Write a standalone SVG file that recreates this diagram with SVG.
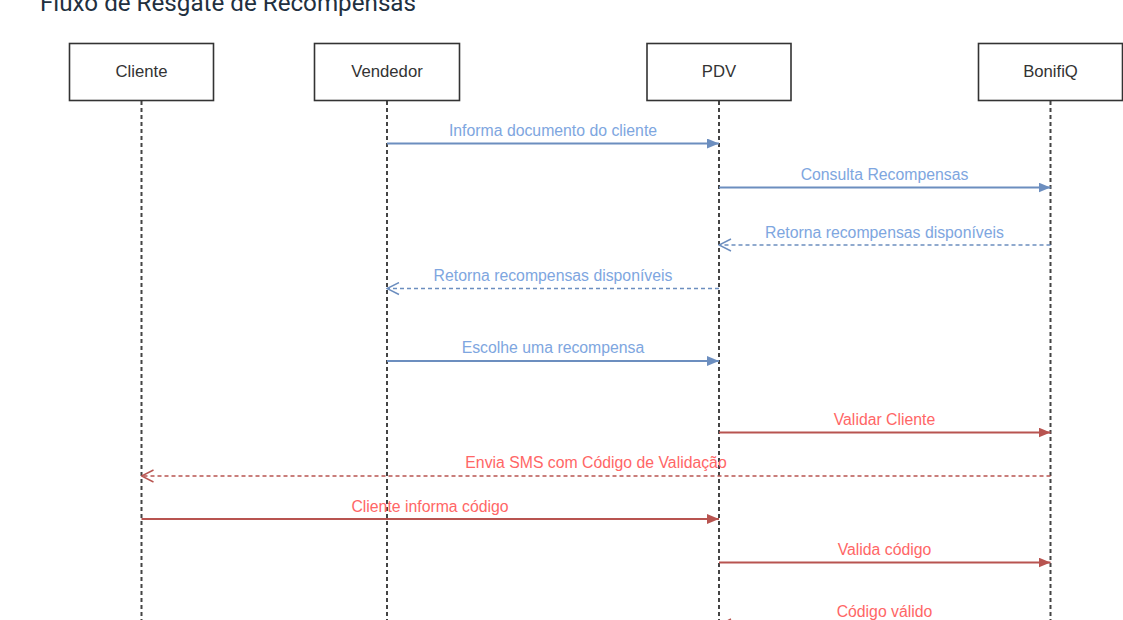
<svg xmlns="http://www.w3.org/2000/svg" width="1123" height="620" viewBox="0 0 1123 620">
<style>
.title{font-family:Roboto,"Liberation Sans",sans-serif;font-size:23px;fill:#22303f}
.box{fill:#ffffff;stroke:#333333;stroke-width:1.6}
.nlabel{font-family:"Liberation Sans",Arial,sans-serif;font-size:16.7px;fill:#333333;text-anchor:middle}
.life{stroke:#444444;stroke-width:2;stroke-dasharray:4 3;fill:none}
.sync-b{stroke:#6c8ebf;stroke-width:2;fill:none}
.ret-b{stroke:#6c8ebf;stroke-width:1.4;stroke-dasharray:4 3;fill:none}
.sync-r{stroke:#b85450;stroke-width:2;fill:none}
.ret-r{stroke:#b85450;stroke-width:1.4;stroke-dasharray:4 3;fill:none}
.lbl{font-family:"Liberation Sans",Arial,sans-serif;font-size:15.8px;text-anchor:middle}
.lbl-b{fill:#7ea6e0}
.lbl-r{fill:#ff6666}
</style>
<defs>
<marker id="blk-b" viewBox="0 0 12 10" refX="12" refY="5" markerWidth="12" markerHeight="10" markerUnits="userSpaceOnUse" orient="auto"><path d="M0,0 L12,5 L0,10 z" fill="#6c8ebf"/></marker>
<marker id="blk-r" viewBox="0 0 12 10" refX="12" refY="5" markerWidth="12" markerHeight="10" markerUnits="userSpaceOnUse" orient="auto"><path d="M0,0 L12,5 L0,10 z" fill="#b85450"/></marker>
<marker id="opn-b" viewBox="0 0 14 14" refX="13" refY="7" markerWidth="14" markerHeight="14" markerUnits="userSpaceOnUse" orient="auto"><path d="M1,1 L13,7 L1,13" fill="none" stroke="#6c8ebf" stroke-width="1.4"/></marker>
<marker id="opn-r" viewBox="0 0 14 14" refX="13" refY="7" markerWidth="14" markerHeight="14" markerUnits="userSpaceOnUse" orient="auto"><path d="M1,1 L13,7 L1,13" fill="none" stroke="#b85450" stroke-width="1.4"/></marker>
</defs>
<rect x="0" y="0" width="1123" height="620" fill="#ffffff"/>
<text class="title" x="40" y="11" textLength="376" lengthAdjust="spacingAndGlyphs">Fluxo de Resgate de Recompensas</text>

<g id="node-cliente">
<line class="life" x1="141.5" y1="101" x2="141.5" y2="620"/>
<rect class="box" x="69.5" y="43.5" width="144" height="57"/>
<text class="nlabel" x="141.5" y="77">Cliente</text>
</g>
<g id="node-vendedor">
<line class="life" x1="387" y1="101" x2="387" y2="620"/>
<rect class="box" x="314.5" y="43.5" width="145" height="57"/>
<text class="nlabel" x="387" y="77">Vendedor</text>
</g>
<g id="node-pdv">
<line class="life" x1="719" y1="101" x2="719" y2="620"/>
<rect class="box" x="647" y="43.5" width="144" height="57"/>
<text class="nlabel" x="719" y="77">PDV</text>
</g>
<g id="node-bonifiq">
<line class="life" x1="1050.5" y1="101" x2="1050.5" y2="620"/>
<rect class="box" x="978.5" y="43.5" width="144" height="57"/>
<text class="nlabel" x="1050.5" y="77">BonifiQ</text>
</g>

<g id="connectors">
<line class="sync-b" x1="387" y1="143.5" x2="719" y2="143.5" marker-end="url(#blk-b)"/>
<text class="lbl lbl-b" x="553" y="136">Informa documento do cliente</text>

<line class="sync-b" x1="719" y1="187.5" x2="1050.5" y2="187.5" marker-end="url(#blk-b)"/>
<text class="lbl lbl-b" x="884.5" y="180">Consulta Recompensas</text>

<line class="ret-b" x1="1050.5" y1="245" x2="719" y2="245" marker-end="url(#opn-b)"/>
<text class="lbl lbl-b" x="884.5" y="238">Retorna recompensas disponíveis</text>

<line class="ret-b" x1="719" y1="288.5" x2="387" y2="288.5" marker-end="url(#opn-b)"/>
<text class="lbl lbl-b" x="553" y="280.5">Retorna recompensas disponíveis</text>

<line class="sync-b" x1="387" y1="361" x2="719" y2="361" marker-end="url(#blk-b)"/>
<text class="lbl lbl-b" x="553" y="353">Escolhe uma recompensa</text>

<line class="sync-r" x1="719" y1="432.5" x2="1050.5" y2="432.5" marker-end="url(#blk-r)"/>
<text class="lbl lbl-r" x="884.5" y="425">Validar Cliente</text>

<line class="ret-r" x1="1050.5" y1="476" x2="141.5" y2="476" marker-end="url(#opn-r)"/>
<text class="lbl lbl-r" x="596" y="468">Envia SMS com Código de Validação</text>

<line class="sync-r" x1="141.5" y1="519" x2="719" y2="519" marker-end="url(#blk-r)"/>
<text class="lbl lbl-r" x="430" y="511.5">Cliente informa código</text>

<line class="sync-r" x1="719" y1="562.5" x2="1050.5" y2="562.5" marker-end="url(#blk-r)"/>
<text class="lbl lbl-r" x="884.5" y="555">Valida código</text>

<line class="ret-r" x1="1050.5" y1="625" x2="719" y2="625" marker-end="url(#opn-r)"/>
<text class="lbl lbl-r" x="884.5" y="617">Código válido</text>
</g>
</svg>
